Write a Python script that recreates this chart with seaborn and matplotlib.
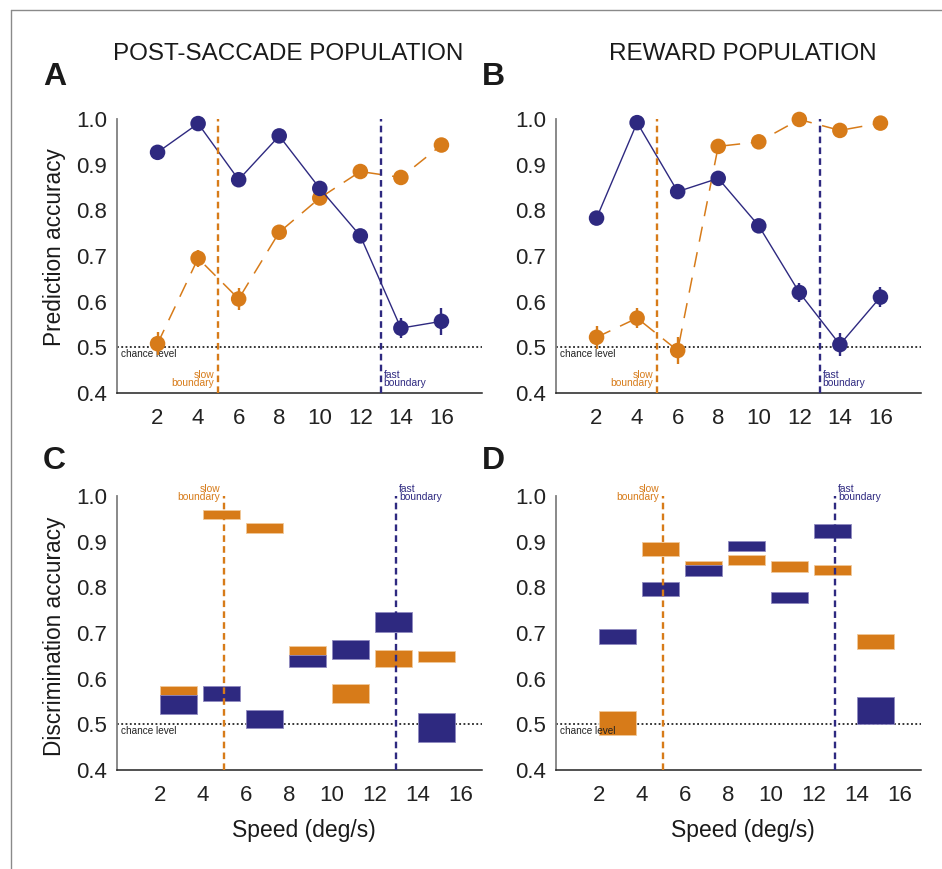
import numpy as np
import pandas as pd
import matplotlib
matplotlib.use("Agg")
import matplotlib.pyplot as plt
import seaborn as sns

# ---------------- data ----------------
speeds = [2, 4, 6, 8, 10, 12, 14, 16]
xtick_labels = ["2", "4", "6", "8", "10", "12", "14", "16"]
yticks = [0.4, 0.5, 0.6, 0.7, 0.8, 0.9, 1.0]

# Panel A (post-saccade population, prediction accuracy)
A_blue = [0.927, 0.990, 0.867, 0.963, 0.848, 0.744, 0.542, 0.557]
A_blue_err = [0.006, 0.005, 0.007, 0.006, 0.013, 0.012, 0.022, 0.030]
A_orange = [0.508, 0.695, 0.606, 0.752, 0.827, 0.885, 0.872, 0.943]
A_orange_err = [0.025, 0.018, 0.024, 0.008, 0.008, 0.006, 0.008, 0.005]

# Panel B (reward population, prediction accuracy)
B_blue = [0.783, 0.992, 0.841, 0.870, 0.766, 0.620, 0.506, 0.610]
B_blue_err = [0.012, 0.004, 0.008, 0.008, 0.012, 0.020, 0.025, 0.022]
B_orange = [0.522, 0.564, 0.493, 0.940, 0.950, 0.999, 0.975, 0.991]
B_orange_err = [0.025, 0.022, 0.030, 0.005, 0.005, 0.003, 0.004, 0.004]

# Panels C/D (discrimination accuracy ranges between adjacent speeds)
pair_starts = [2, 4, 6, 8, 10, 12, 14]
C_orange_lo = [0.555, 0.949, 0.920, 0.645, 0.546, 0.626, 0.636]
C_orange_hi = [0.584, 0.969, 0.940, 0.672, 0.588, 0.662, 0.661]
C_blue_lo = [0.523, 0.552, 0.493, 0.625, 0.644, 0.703, 0.462]
C_blue_hi = [0.564, 0.585, 0.531, 0.652, 0.685, 0.745, 0.524]

D_orange_lo = [0.477, 0.869, 0.835, 0.849, 0.834, 0.826, 0.664]
D_orange_hi = [0.530, 0.899, 0.858, 0.870, 0.858, 0.849, 0.697]
D_blue_lo = [0.676, 0.782, 0.824, 0.879, 0.765, 0.909, 0.500]
D_blue_hi = [0.708, 0.812, 0.848, 0.902, 0.790, 0.939, 0.560]

slow_boundary = 5
fast_boundary = 13
chance = 0.5

BLUE = "#2e2980"
ORANGE = "#d77b19"

sns.set_style("white")
plt.rcParams["font.family"] = ["Liberation Sans", "DejaVu Sans"]

fig = plt.figure(figsize=(9.42, 8.69), dpi=100)
W, H = 942.0, 869.0


def axes_px(left, right, top, bottom):
    return fig.add_axes([left / W, 1 - bottom / H, (right - left) / W, (bottom - top) / H])


axA = axes_px(117, 482, 119, 393)
axB = axes_px(556, 921, 119, 393)
axC = axes_px(117, 482, 496, 770)
axD = axes_px(556, 921, 496, 770)


def style_axes(ax, xmax):
    ax.set_xlim(0, xmax)
    ax.set_ylim(0.4, 1.0)
    ax.set_xticks(speeds)
    ax.set_xticklabels(xtick_labels)
    ax.set_yticks(yticks)
    ax.set_yticklabels([f"{v:.1f}" for v in yticks])
    for s in ["top", "right"]:
        ax.spines[s].set_visible(False)
    ax.spines["left"].set_color("#808080")
    ax.spines["left"].set_linewidth(1.3)
    ax.spines["bottom"].set_color("#222222")
    ax.spines["bottom"].set_linewidth(1.1)
    ax.tick_params(axis="x", direction="in", length=4, width=0.8, colors="#555555",
                   labelcolor="#222222", labelsize=16, pad=11)
    ax.tick_params(axis="y", direction="in", length=4, width=0.8, colors="#808080",
                   labelcolor="#222222", labelsize=16, pad=7)
    ax.set_xlabel("")
    ax.set_ylabel("")
    ax.set_facecolor("none")
    # chance level
    ax.axhline(chance, color="black", lw=1.1, ls=(0, (1.2, 1.6)), zorder=2)
    ax.text(0.2, chance - 0.004, "chance level",
            fontsize=7.2, color="#222222", ha="left", va="top")
    # boundaries
    ax.axvline(slow_boundary, color=ORANGE, lw=1.7, ls=(0, (2.8, 1.8)), zorder=6)
    ax.axvline(fast_boundary, color=BLUE, lw=1.7, ls=(0, (2.8, 1.8)), zorder=6)


def boundary_text(ax, at_top):
    y = 0.986 if at_top else 0.412
    ax.text(slow_boundary - 0.2, y, "slow\nboundary", color=ORANGE, fontsize=7.4,
            ha="right", va="bottom", linespacing=0.75, multialignment="right")
    ax.text(fast_boundary + 0.15, y, "fast\nboundary", color=BLUE, fontsize=7.4,
            ha="left", va="bottom", linespacing=0.75, multialignment="left")


def line_panel(ax, blue, blue_err, orange, orange_err):
    df = pd.DataFrame({"speed": speeds, "blue": blue, "orange": orange})
    sns.lineplot(data=df, x="speed", y="orange", ax=ax, color=ORANGE, lw=1.1,
                 dashes=False, zorder=3)
    ax.lines[-1].set_linestyle((0, (10, 7)))
    ax.errorbar(speeds, orange, yerr=orange_err, fmt="none", ecolor=ORANGE,
                elinewidth=1.7, capsize=0, zorder=4, clip_on=False)
    sns.scatterplot(data=df, x="speed", y="orange", ax=ax, color=ORANGE, s=125,
                    edgecolor="none", zorder=5, clip_on=False, legend=False)
    sns.lineplot(data=df, x="speed", y="blue", ax=ax, color=BLUE, lw=1.0, zorder=6)
    ax.errorbar(speeds, blue, yerr=blue_err, fmt="none", ecolor=BLUE,
                elinewidth=1.7, capsize=0, zorder=7, clip_on=False)
    sns.scatterplot(data=df, x="speed", y="blue", ax=ax, color=BLUE, s=125,
                    edgecolor="none", zorder=8, clip_on=False, legend=False)


def bar_panel(ax, o_lo, o_hi, b_lo, b_hi):
    o_lo, o_hi, b_lo, b_hi = map(np.asarray, (o_lo, o_hi, b_lo, b_hi))
    ax.bar(pair_starts, o_hi - o_lo, bottom=o_lo, width=1.72, align="edge",
           color=ORANGE, edgecolor="#f0c89a", linewidth=0.6, zorder=3)
    ax.bar(pair_starts, b_hi - b_lo, bottom=b_lo, width=1.72, align="edge",
           color=BLUE, edgecolor="#8f8ac0", linewidth=0.6, zorder=4)


line_panel(axA, A_blue, A_blue_err, A_orange, A_orange_err)
line_panel(axB, B_blue, B_blue_err, B_orange, B_orange_err)
bar_panel(axC, C_orange_lo, C_orange_hi, C_blue_lo, C_blue_hi)
bar_panel(axD, D_orange_lo, D_orange_hi, D_blue_lo, D_blue_hi)

style_axes(axA, 18)
style_axes(axB, 18)
style_axes(axC, 17)
style_axes(axD, 17)
boundary_text(axA, False)
boundary_text(axB, False)
boundary_text(axC, True)
boundary_text(axD, True)

# titles, panel letters, axis labels
fig.text(288 / W, 1 - 60 / H, "POST-SACCADE POPULATION", fontsize=17.5, color="#1a1a1a",
         ha="center", va="baseline")
fig.text(743 / W, 1 - 60 / H, "REWARD POPULATION", fontsize=17.5, color="#1a1a1a",
         ha="center", va="baseline")
for lx, ly, letter in [(43, 85, "A"), (482, 85, "B"), (43, 469, "C"), (482, 469, "D")]:
    fig.text(lx / W, 1 - ly / H, letter, fontsize=23, fontweight="bold", color="#1a1a1a",
             ha="left", va="baseline")
fig.text(54 / W, 1 - 247 / H, "Prediction accuracy", fontsize=16.3, rotation=90,
         ha="center", va="center", color="#1a1a1a")
fig.text(54 / W, 1 - 636 / H, "Discrimination accuracy", fontsize=16.3, rotation=90,
         ha="center", va="center", color="#1a1a1a")
fig.text(304 / W, 1 - 837 / H, "Speed (deg/s)", fontsize=16.5, ha="center",
         va="baseline", color="#1a1a1a")
fig.text(743 / W, 1 - 837 / H, "Speed (deg/s)", fontsize=16.5, ha="center",
         va="baseline", color="#1a1a1a")

# outer frame (left and top edges)
fig.add_artist(plt.Line2D([11 / W, 11 / W], [0, 1 - 10 / H], transform=fig.transFigure,
                          color="#8a8a8a", lw=1.0))
fig.add_artist(plt.Line2D([11 / W, 1], [1 - 10 / H, 1 - 10 / H], transform=fig.transFigure,
                          color="#8a8a8a", lw=1.0))

fig.savefig("out.png", dpi=100, facecolor="white")
